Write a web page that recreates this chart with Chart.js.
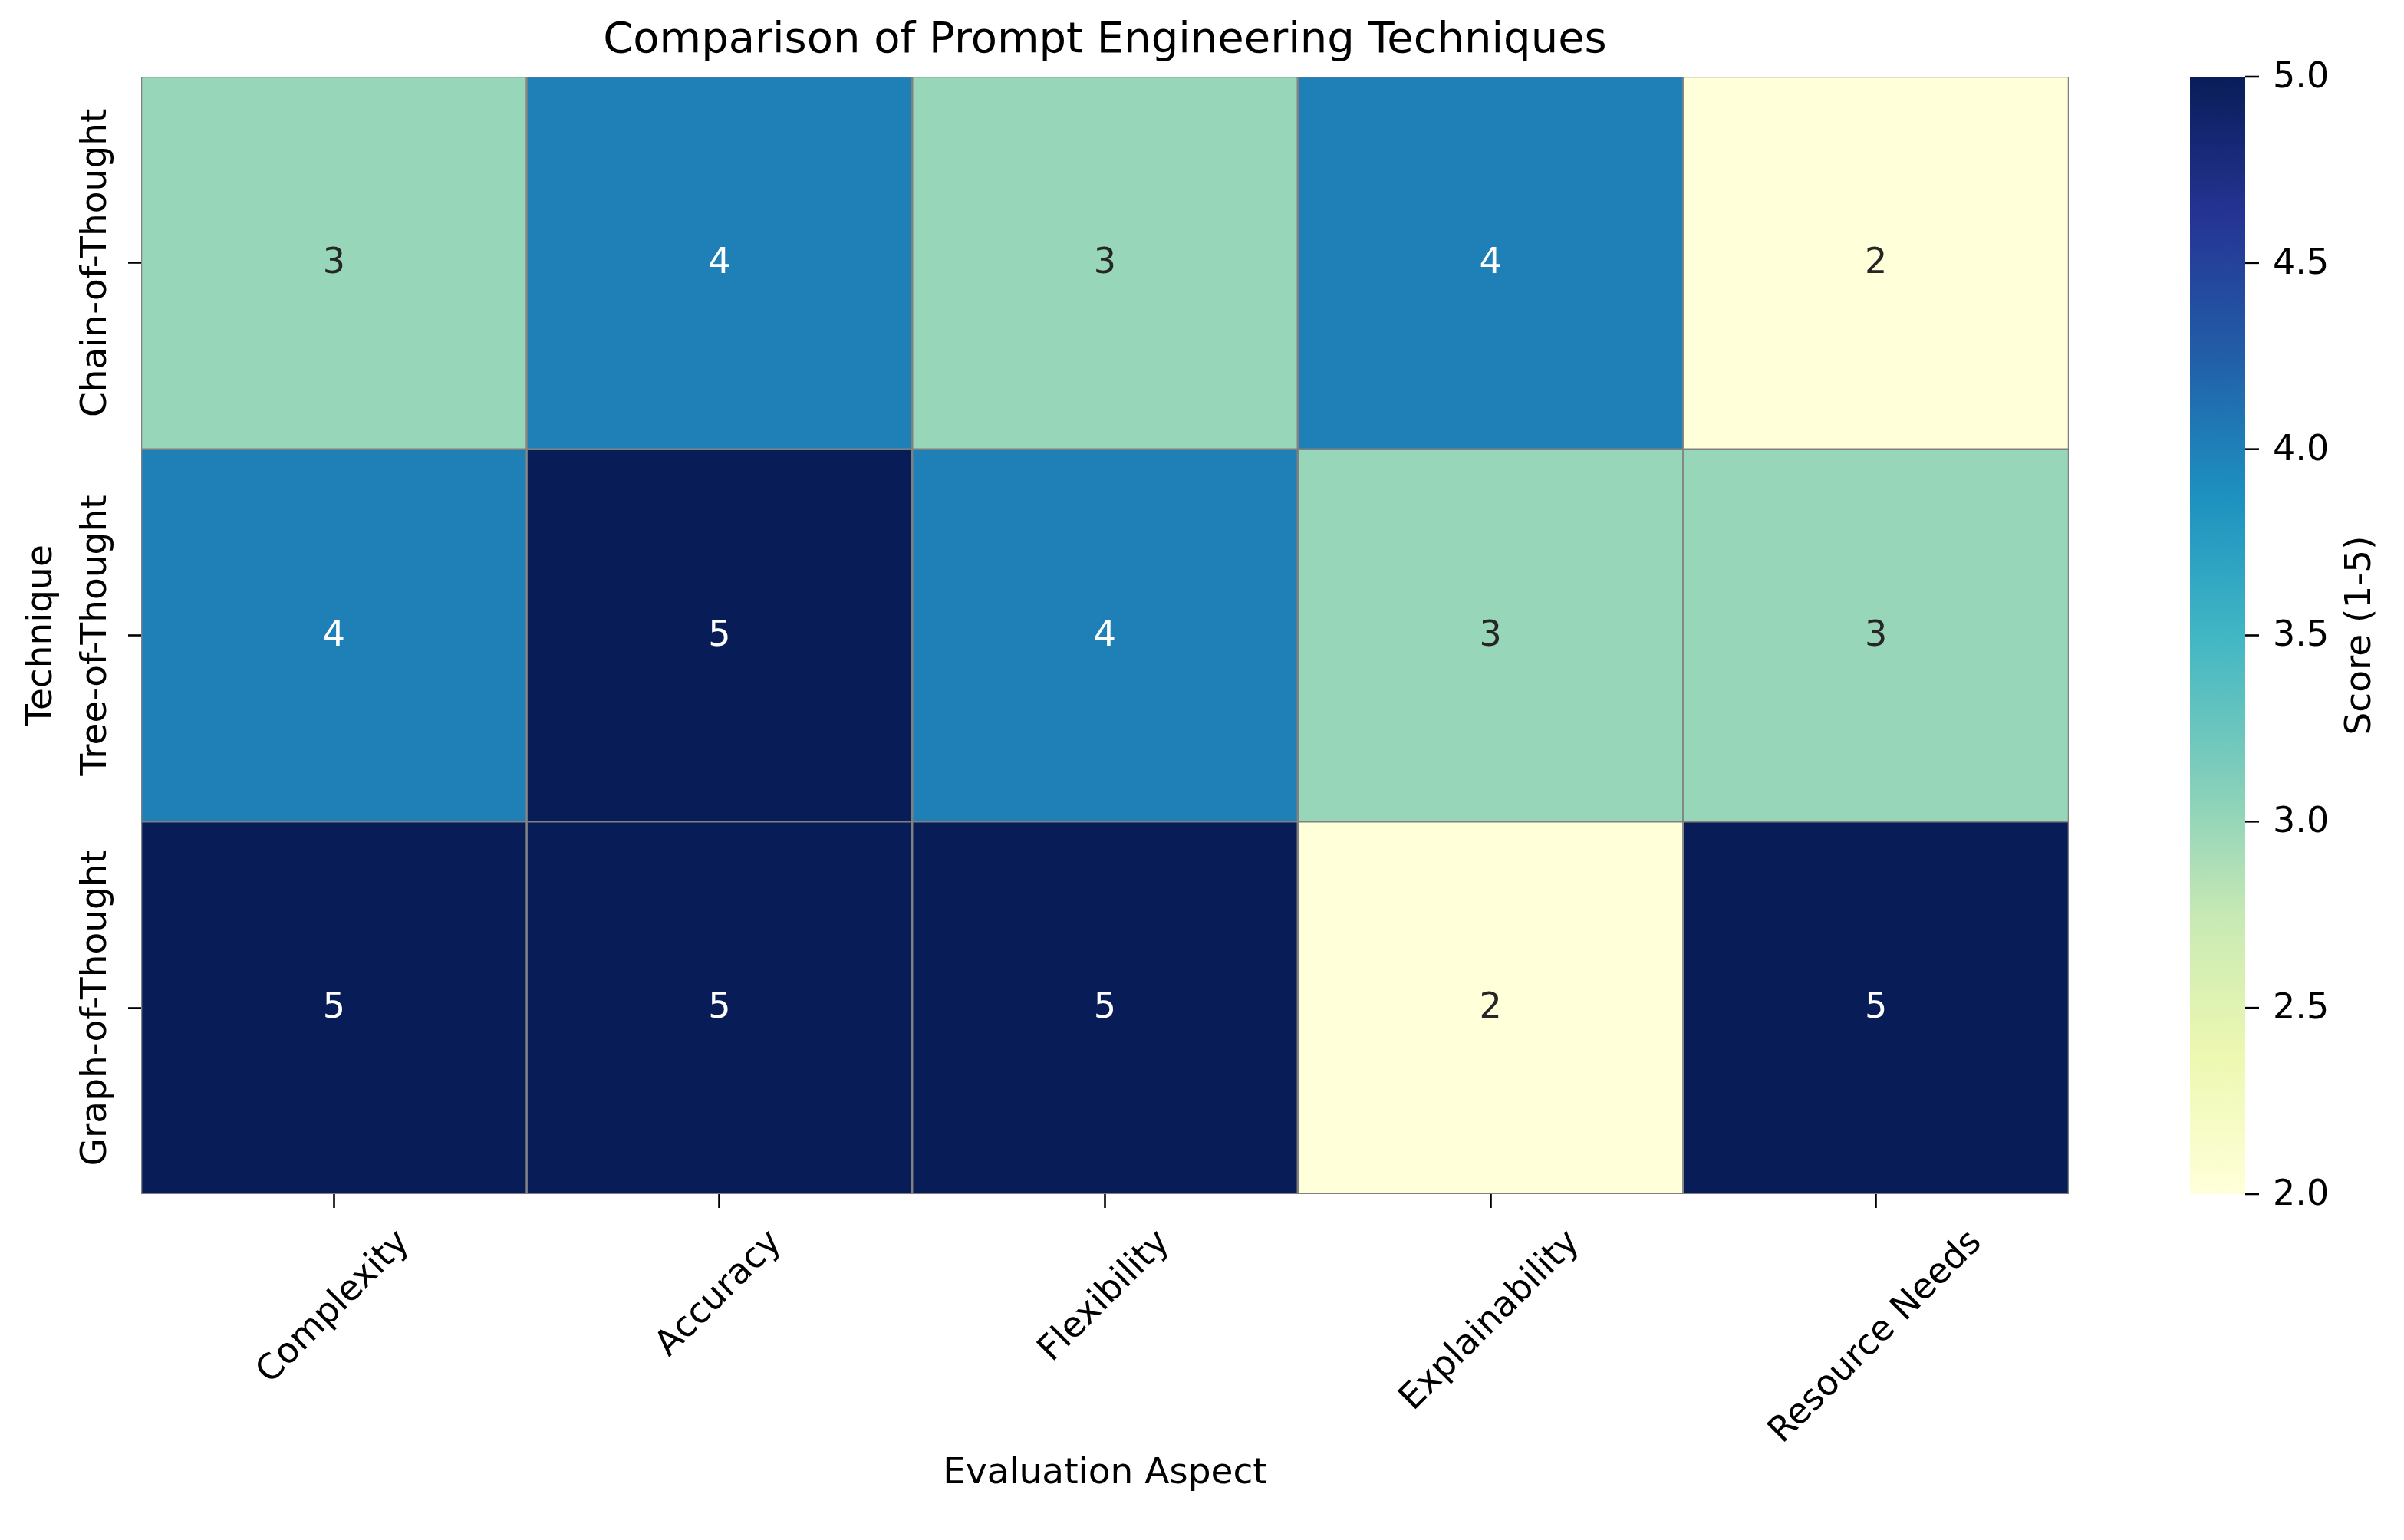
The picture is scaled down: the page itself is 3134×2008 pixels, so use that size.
<!DOCTYPE html>
<html>
<head>
<meta charset="utf-8">
<title>Comparison of Prompt Engineering Techniques</title>
<script src="https://cdn.jsdelivr.net/npm/chart.js@4.4.1/dist/chart.umd.min.js"></script>
<style>
  html, body { margin: 0; padding: 0; background: #fff; }
  #wrap { width: 3134px; height: 2008px; }
</style>
</head>
<body>
<div id="wrap"><canvas id="heatmap" width="3134" height="2008"></canvas></div>
<script>
// Chart data
const techniques = ['Chain-of-Thought', 'Tree-of-Thought', 'Graph-of-Thought'];
const aspects = ['Complexity', 'Accuracy', 'Flexibility', 'Explainability', 'Resource Needs'];
const chainScores = [3, 4, 3, 4, 2];
const treeScores = [4, 5, 4, 3, 3];
const graphScores = [5, 5, 5, 2, 5];
const colorbarTicks = [2.0, 2.5, 3.0, 3.5, 4.0, 4.5, 5.0];

const scores = [chainScores, treeScores, graphScores];
const vmin = 2;
const vmax = 5;

const FONT = "'DejaVu Sans', sans-serif";
const TICK_SIZE = 46;

// YlGnBu colormap stops (matplotlib / colorbrewer)
const ylGnBu = ['#ffffd9', '#edf8b1', '#c7e9b4', '#7fcdbb', '#41b6c4',
                '#1d91c0', '#225ea8', '#253494', '#081d58'];

function hexToRgb(hex) {
    const n = parseInt(hex.slice(1), 16);
    return [(n >> 16) & 255, (n >> 8) & 255, n & 255];
}

function colorFor(value) {
    let t = (value - vmin) / (vmax - vmin);
    t = Math.max(0, Math.min(1, t));
    const pos = t * (ylGnBu.length - 1);
    const i = Math.min(Math.floor(pos), ylGnBu.length - 2);
    const f = pos - i;
    const a = hexToRgb(ylGnBu[i]);
    const b = hexToRgb(ylGnBu[i + 1]);
    const c = a.map((v, k) => Math.round(v + (b[k] - v) * f));
    return `rgb(${c[0]}, ${c[1]}, ${c[2]})`;
}

// same rule seaborn uses to pick annotation colour
function textColorFor(value) {
    const rgb = colorFor(value).match(/\d+/g).map(v => {
        const c = v / 255;
        return c <= 0.03928 ? c / 12.92 : Math.pow((c + 0.055) / 1.055, 2.4);
    });
    const lum = 0.2126 * rgb[0] + 0.7152 * rgb[1] + 0.0722 * rgb[2];
    return lum > 0.408 ? '#262626' : '#ffffff';
}

// one floating-bar dataset per technique row
const datasets = techniques.map((name, i) => ({
    label: name,
    data: aspects.map(() => [i - 0.5, i + 0.5]),
    backgroundColor: scores[i].map(colorFor),
    borderColor: '#808080',
    borderWidth: 1.6,
    borderSkipped: false,
    barPercentage: 1.0,
    categoryPercentage: 1.0,
    grouped: false
}));

// Draw cell numbers, rotated tick labels and the colorbar
const heatmapExtras = {
    id: 'heatmapExtras',
    afterDatasetsDraw(chart) {
        const ctx = chart.ctx;
        ctx.save();
        ctx.font = `46px ${FONT}`;
        ctx.textAlign = 'center';
        ctx.textBaseline = 'alphabetic';
        chart.data.datasets.forEach((ds, i) => {
            const meta = chart.getDatasetMeta(i);
            meta.data.forEach((bar, j) => {
                const value = scores[i][j];
                const cy = (bar.y + bar.base) / 2;
                ctx.fillStyle = textColorFor(value);
                ctx.fillText(String(value), bar.x, cy + 13);
            });
        });
        ctx.restore();
    },
    afterDraw(chart) {
        const ctx = chart.ctx;
        const xs = chart.scales.x;
        const ys = chart.scales.y;
        const cb = chart.scales.cb;

        // x tick labels, 45 degrees, centred under tick
        ctx.save();
        ctx.fillStyle = '#000';
        ctx.font = `${TICK_SIZE}px ${FONT}`;
        ctx.textAlign = 'center';
        ctx.textBaseline = 'middle';
        aspects.forEach((label, j) => {
            const tx = xs.getPixelForTick(j);
            const w = ctx.measureText(label).width;
            const boxH = (w + TICK_SIZE) * Math.SQRT1_2;
            const cy = xs.top + 40 + boxH / 2;
            ctx.save();
            ctx.translate(tx, cy);
            ctx.rotate(-Math.PI / 4);
            ctx.fillText(label, 0, 0);
            ctx.restore();
        });

        // y tick labels, vertical
        ctx.font = `47px ${FONT}`;
        techniques.forEach((label, i) => {
            const ty = ys.getPixelForTick(i);
            ctx.save();
            ctx.translate(ys.right - 58, ty);
            ctx.rotate(-Math.PI / 2);
            ctx.fillText(label, 0, 0);
            ctx.restore();
        });
        ctx.restore();

        // colorbar
        const x0 = cb.left + 158;
        const x1 = cb.left + 230;
        const yTop = cb.getPixelForValue(vmax);
        const yBot = cb.getPixelForValue(vmin);
        ctx.save();
        const grad = ctx.createLinearGradient(0, yBot, 0, yTop);
        ylGnBu.forEach((c, k) => grad.addColorStop(k / (ylGnBu.length - 1), c));
        ctx.fillStyle = grad;
        ctx.fillRect(x0, yTop, x1 - x0, yBot - yTop);

        ctx.strokeStyle = '#000';
        ctx.lineWidth = 2.6;
        ctx.fillStyle = '#000';
        ctx.font = `${TICK_SIZE}px ${FONT}`;
        ctx.textAlign = 'left';
        ctx.textBaseline = 'middle';
        colorbarTicks.forEach(v => {
            const y = cb.getPixelForValue(v);
            ctx.beginPath();
            ctx.moveTo(x1, y);
            ctx.lineTo(x1 + 18, y);
            ctx.stroke();
            ctx.fillText(v.toFixed(1), x1 + 36, y + 2);
        });

        ctx.translate(cb.left + 381, (yTop + yBot) / 2);
        ctx.rotate(-Math.PI / 2);
        ctx.textAlign = 'center';
        ctx.font = `47px ${FONT}`;
        ctx.fillText('Score (1-5)', 0, 0);
        ctx.restore();
    }
};

const tickGrid = {
    drawOnChartArea: false,
    drawTicks: true,
    tickWidth: 2.6,
    tickColor: '#000'
};

new Chart(document.getElementById('heatmap'), {
    type: 'bar',
    data: { labels: aspects, datasets: datasets },
    options: {
        responsive: false,
        devicePixelRatio: 1,
        animation: false,
        layout: { padding: 0 },
        plugins: {
            legend: { display: false },
            tooltip: { enabled: false },
            title: {
                display: true,
                text: 'Comparison of Prompt Engineering Techniques',
                fullSize: false,
                color: '#000',
                font: { family: FONT, size: 56, weight: 'normal', lineHeight: 1.2 },
                padding: { top: 20, bottom: 12.8 }
            }
        },
        scales: {
            x: {
                type: 'category',
                offset: true,
                grid: Object.assign({ offset: false, tickLength: 18 }, tickGrid),
                border: { display: false },
                ticks: { display: false },
                title: {
                    display: true,
                    text: 'Evaluation Aspect',
                    color: '#000',
                    font: { family: FONT, size: 47, lineHeight: 1.2 },
                    padding: { top: 0, bottom: 58 }
                },
                afterFit: s => { s.height = 451; }
            },
            y: {
                type: 'linear',
                min: -0.5,
                max: 2.5,
                reverse: true,
                afterBuildTicks: s => { s.ticks = techniques.map((_, i) => ({ value: i })); },
                grid: Object.assign({ tickLength: 17 }, tickGrid),
                border: { display: false },
                ticks: { display: false },
                title: {
                    display: true,
                    text: 'Technique',
                    color: '#000',
                    font: { family: FONT, size: 47, lineHeight: 1.2 },
                    padding: { top: 27, bottom: 0 }
                },
                afterFit: s => { s.width = 184; }
            },
            cb: {
                type: 'linear',
                position: 'right',
                min: vmin,
                max: vmax,
                afterBuildTicks: s => { s.ticks = colorbarTicks.map(v => ({ value: v })); },
                grid: { display: false },
                border: { display: false },
                ticks: { display: false },
                afterFit: s => { s.width = 437; }
            }
        }
    },
    plugins: [heatmapExtras]
});
</script>
</body>
</html>
